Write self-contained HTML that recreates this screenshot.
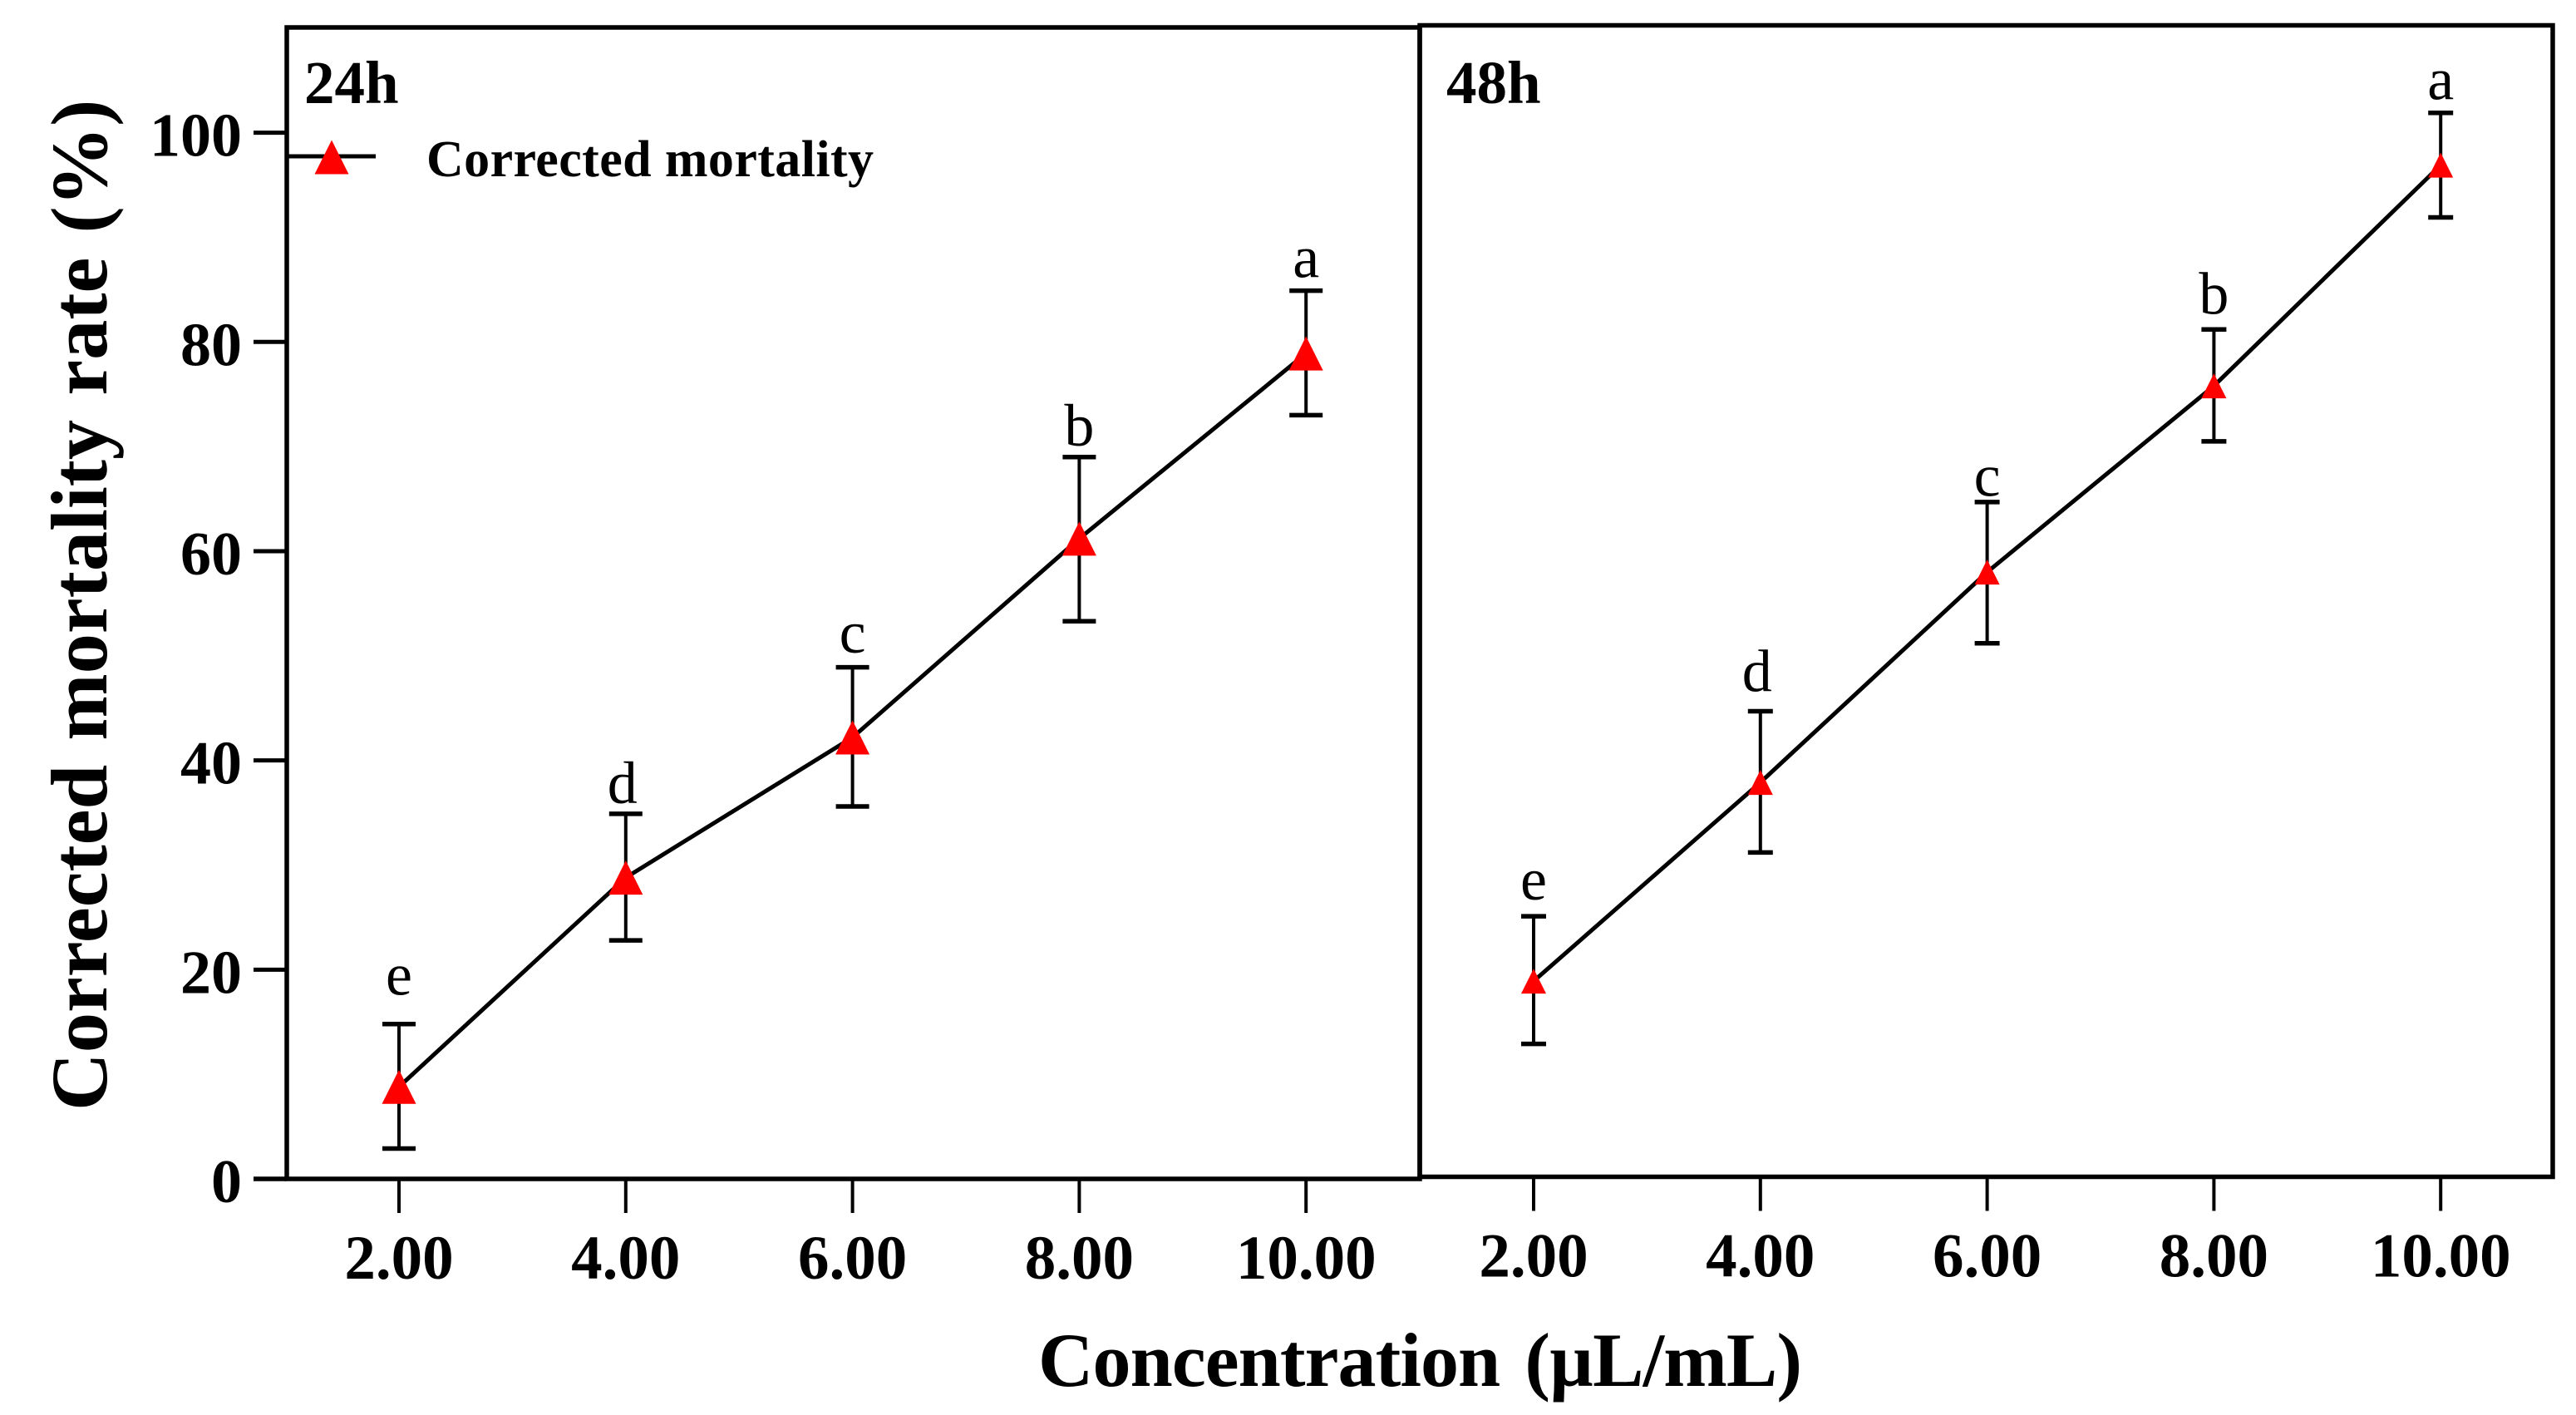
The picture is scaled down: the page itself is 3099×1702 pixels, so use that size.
<!DOCTYPE html>
<html lang="en">
<head>
<meta charset="utf-8">
<title>Corrected mortality rate by concentration</title>
<style>
  html, body { margin: 0; padding: 0; background: #fff; }
  svg { display: block; }
  text { font-family: "Liberation Serif", serif; fill: #000; }
  .bold { font-weight: bold; }
</style>
</head>
<body>
<svg id="chart" xmlns="http://www.w3.org/2000/svg" width="3099" height="1702" viewBox="0 0 3099 1702">
  <rect x="0" y="0" width="3099" height="1702" fill="#fff"/>
  <g id="panel24"></g>
  <g id="panel48"></g>
  <g id="legend">
    <line x1="345" y1="188" x2="452" y2="188" stroke="#000" stroke-width="5"/>
    <polygon points="399,168.5 419.5,209.5 378.5,209.5" fill="#ff0000"/>
    <text class="bold" x="513" y="212" font-size="62" textLength="538">Corrected mortality</text>
  </g>
  <text class="bold" font-size="96.5" word-spacing="5" text-anchor="start" transform="translate(128,1336) rotate(-90)">Corrected mortality rate (%)</text>
  <text class="bold" x="1249" y="1667" font-size="92" word-spacing="8" textLength="919">Concentration (µL/mL)</text>
  <text class="bold" x="366" y="124" font-size="73">24h</text>
  <text class="bold" x="1740" y="124" font-size="73">48h</text>
</svg>
<script>
const categories = [2, 4, 6, 8, 10];
const xTickLabels = ["2.00", "4.00", "6.00", "8.00", "10.00"];
const yTicks = [0, 20, 40, 60, 80, 100];
const sigLetters24 = ["e", "d", "c", "b", "a"];
const sigLetters48 = ["e", "d", "c", "b", "a"];
const means24 = [8.8, 28.8, 42.2, 61.2, 78.9];
const upper24 = [14.8, 34.9, 48.9, 69.0, 84.9];
const lower24 = [2.9, 22.8, 35.6, 53.3, 73.0];
const letterLevel24 = [17.6, 35.9, 50.3, 70.1, 86.2];
const means48 = [18.7, 37.7, 57.8, 75.6, 96.7];
const upper48 = [24.9, 44.5, 64.5, 81.0, 101.7];
const lower48 = [12.7, 31.0, 51.0, 70.3, 91.7];
const letterLevel48 = [26.5, 46.4, 65.1, 82.5, 103.0];

const SVGNS = "http://www.w3.org/2000/svg";
function mk(tag, parent, attrs, txt) {
  const el = document.createElementNS(SVGNS, tag);
  for (const k in attrs) el.setAttribute(k, attrs[k]);
  if (txt !== undefined) el.textContent = txt;
  parent.appendChild(el);
  return el;
}
function xScale(x0) { return v => x0 + (v - 2) * 136.4; }
function yScale(y0) { return v => y0 - v * 12.584; }

function drawPanel(root, opts) {
  const xf = xScale(opts.x0), yf = yScale(opts.y0);
  const markerSize = opts.marker, capW = opts.cap;

  categories.forEach((c, i) => {
    const x = xf(c);
    const stem = mk("line", root, {x1: x, x2: x, y1: yf(opts.upper[i]), y2: yf(opts.lower[i]), stroke: "#000", "stroke-width": 4});
    
    
    const capTop = mk("line", root, {x1: x - capW / 2, x2: x + capW / 2, y1: yf(opts.upper[i]), y2: yf(opts.upper[i]), stroke: "#000", "stroke-width": 5.5});
    
    
    const capBot = mk("line", root, {x1: x - capW / 2, x2: x + capW / 2, y1: yf(opts.lower[i]), y2: yf(opts.lower[i]), stroke: "#000", "stroke-width": 5.5});
    
    
  });

  const pts = categories.map((c, i) => xf(c) + "," + yf(opts.means[i])).join(" ");
  const line = mk("polyline", root, {points: pts, fill: "none", stroke: "#000", "stroke-width": 5});
  
  

  categories.forEach((c, i) => {
    const x = xf(c), y = yf(opts.means[i]), h = markerSize / 2;
    const tri = mk("polygon", root, {points: x + "," + (y - h) + " " + (x + h) + "," + (y + h) + " " + (x - h) + "," + (y + h), fill: "#ff0000"});
    
    
    const nudge = opts.letters[i] === "d" ? -4 : 0;
    const letter = mk("text", root, {x: x + nudge, y: yf(opts.letterLevel[i]), "font-size": 72, "text-anchor": "middle"}, opts.letters[i]);
    
    
  });

  const frame = mk("rect", root, {x: opts.left, y: opts.top, width: opts.right - opts.left, height: opts.y0 - opts.top, fill: "none", stroke: "#000", "stroke-width": 5.5});
  
  

  categories.forEach((c, i) => {
    const x = xf(c);
    const tick = mk("line", root, {x1: x, x2: x, y1: opts.y0, y2: opts.y0 + 41, stroke: "#000", "stroke-width": 4});
    
    
    const lab = mk("text", root, {x: x, y: opts.y0 + 120, "font-size": 75, "font-weight": "bold", "text-anchor": "middle"}, xTickLabels[i]);
    
    
  });

  if (opts.yAxis) {
    yTicks.forEach(t => {
      const y = yf(t);
      const tick = mk("line", root, {x1: opts.left - 40, x2: opts.left, y1: y, y2: y, stroke: "#000", "stroke-width": t === 0 ? 5.5 : 5});
      
      
      const lab = mk("text", root, {x: 291, y: y + 28, "font-size": 74, "font-weight": "bold", "text-anchor": "end"}, String(t));
      
      
    });
  }
}

drawPanel(document.getElementById("panel24"), {
  x0: 480, y0: 1418, left: 345, right: 1708, top: 33, marker: 41, cap: 40,
  means: means24, upper: upper24, lower: lower24, letterLevel: letterLevel24, letters: sigLetters24, yAxis: true
});
drawPanel(document.getElementById("panel48"), {
  x0: 1845, y0: 1415.5, left: 1708, right: 3071, top: 30.5, marker: 30, cap: 30,
  means: means48, upper: upper48, lower: lower48, letterLevel: letterLevel48, letters: sigLetters48, yAxis: false
});
</script>
</body>
</html>
